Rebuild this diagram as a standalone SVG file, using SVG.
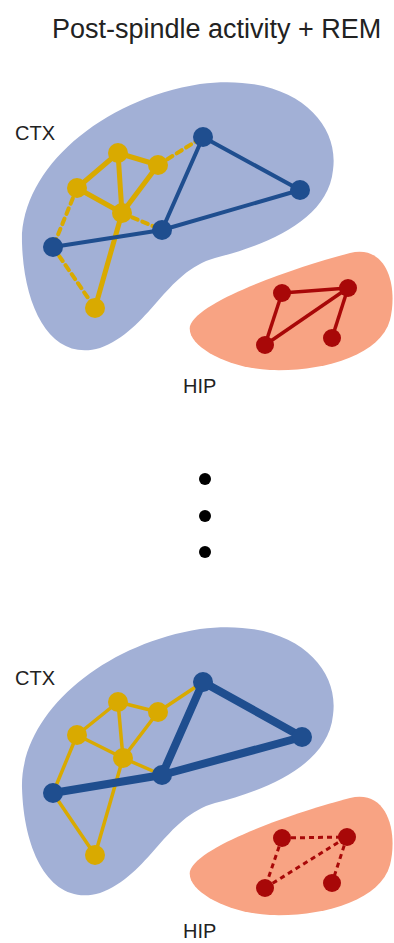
<svg xmlns="http://www.w3.org/2000/svg" width="394" height="943" viewBox="0 0 394 943">
<style>
.lbl{font-family:"Liberation Sans",Arial,sans-serif;fill:#222}
.ctx{fill:#a2b0d6}
.hip{fill:#f8a383}
.b{fill:#1f4e8f}
.y{fill:#d9aa00}
.r{fill:#a80808}
.eb{stroke:#1f4e8f;fill:none;stroke-linecap:round}
.ey{stroke:#d9aa00;fill:none;stroke-linecap:round}
.er{stroke:#a80808;fill:none}
</style>
<defs>
<path id="ctxShape" d="M22 243 C20 170 100 100 200 84 C290 72 340 120 333 170 C328 222 262 246 215 258 C165 272 150 330 100 348 C52 362 24 310 22 243 Z"/>
<path id="hipShape" d="M190 326 C198 300 300 266 350 253 C388 244 398 288 390 320 C380 356 322 372 270 370 C228 368 186 346 190 326 Z"/>
</defs>
<rect width="394" height="943" fill="#fff"/>
<text class="lbl" x="52" y="38" font-size="27">Post-spindle activity + REM</text>

<g id="regions">
<use href="#ctxShape" class="ctx"/>
<use href="#hipShape" class="hip"/>
<use href="#ctxShape" class="ctx" transform="translate(0,545)"/>
<use href="#hipShape" class="hip" transform="translate(0,545)"/>
</g>
<text class="lbl" x="15" y="140" font-size="20">CTX</text>
<text class="lbl" x="183" y="393" font-size="20">HIP</text>
<text class="lbl" x="15" y="685" font-size="20">CTX</text>
<text class="lbl" x="183" y="938" font-size="20">HIP</text>

<g id="connectors">
<!-- top panel -->
<g class="ey" stroke-width="5">
<line x1="118" y1="153" x2="158" y2="165"/>
<line x1="118" y1="153" x2="77" y2="188"/>
<line x1="118" y1="153" x2="122" y2="213"/>
<line x1="77" y1="188" x2="122" y2="213"/>
<line x1="158" y1="165" x2="122" y2="213"/>
<line x1="122" y1="213" x2="95" y2="308"/>
</g>
<g class="ey" stroke-width="4" stroke-dasharray="6 5" stroke-linecap="butt">
<line x1="158" y1="165" x2="203" y2="137"/>
<line x1="77" y1="188" x2="53" y2="247"/>
<line x1="53" y1="247" x2="95" y2="308"/>
<line x1="122" y1="213" x2="162" y2="230"/>
</g>
<g class="eb" stroke-width="4">
<line x1="203" y1="137" x2="300" y2="190"/>
<line x1="203" y1="137" x2="162" y2="230"/>
<line x1="162" y1="230" x2="300" y2="190"/>
<line x1="53" y1="247" x2="162" y2="230"/>
</g>
<g class="er" stroke-width="3.5">
<line x1="282" y1="293" x2="348" y2="288"/>
<line x1="282" y1="293" x2="265" y2="345"/>
<line x1="265" y1="345" x2="348" y2="288"/>
<line x1="348" y1="288" x2="332" y2="338"/>
</g>
<!-- bottom panel -->
<g class="ey" stroke-width="3.5">
<line x1="118" y1="702" x2="158" y2="712"/>
<line x1="118" y1="702" x2="77" y2="735"/>
<line x1="118" y1="702" x2="123" y2="758"/>
<line x1="77" y1="735" x2="123" y2="758"/>
<line x1="158" y1="712" x2="123" y2="758"/>
<line x1="123" y1="758" x2="95" y2="855"/>
<line x1="158" y1="712" x2="203" y2="682"/>
<line x1="77" y1="735" x2="53" y2="793"/>
<line x1="53" y1="793" x2="95" y2="855"/>
<line x1="123" y1="758" x2="162" y2="775"/>
</g>
<g class="eb" stroke-width="8">
<line x1="203" y1="682" x2="302" y2="737"/>
<line x1="203" y1="682" x2="162" y2="775"/>
<line x1="162" y1="775" x2="302" y2="737"/>
<line x1="53" y1="793" x2="162" y2="775"/>
</g>
<g class="er" stroke-width="3" stroke-dasharray="5 4">
<line x1="282" y1="838" x2="347" y2="837"/>
<line x1="282" y1="838" x2="265" y2="888"/>
<line x1="265" y1="888" x2="347" y2="837"/>
<line x1="347" y1="837" x2="332" y2="883"/>
</g>
</g>

<g id="top-nodes">
<g id="t-y-top"><circle class="y" cx="118" cy="153" r="10"/></g>
<g id="t-y-right"><circle class="y" cx="158" cy="165" r="10"/></g>
<g id="t-y-left"><circle class="y" cx="77" cy="188" r="10"/></g>
<g id="t-y-center"><circle class="y" cx="122" cy="213" r="10"/></g>
<g id="t-y-bottom"><circle class="y" cx="95" cy="308" r="10"/></g>
<g id="t-b-top"><circle class="b" cx="203" cy="137" r="10"/></g>
<g id="t-b-right"><circle class="b" cx="300" cy="190" r="10"/></g>
<g id="t-b-center"><circle class="b" cx="162" cy="230" r="10"/></g>
<g id="t-b-left"><circle class="b" cx="53" cy="247" r="10"/></g>
<g id="t-r-1"><circle class="r" cx="282" cy="293" r="9"/></g>
<g id="t-r-2"><circle class="r" cx="348" cy="288" r="9"/></g>
<g id="t-r-3"><circle class="r" cx="265" cy="345" r="9"/></g>
<g id="t-r-4"><circle class="r" cx="332" cy="338" r="9"/></g>
</g>

<g id="ellipsis">
<circle cx="205" cy="479" r="6" fill="#000"/>
<circle cx="205" cy="516" r="6" fill="#000"/>
<circle cx="205" cy="552" r="6" fill="#000"/>
</g>

<g id="bottom-nodes">
<g id="b-y-top"><circle class="y" cx="118" cy="702" r="10"/></g>
<g id="b-y-right"><circle class="y" cx="158" cy="712" r="10"/></g>
<g id="b-y-left"><circle class="y" cx="77" cy="735" r="10"/></g>
<g id="b-y-center"><circle class="y" cx="123" cy="758" r="10"/></g>
<g id="b-y-bottom"><circle class="y" cx="95" cy="855" r="10"/></g>
<g id="b-b-top"><circle class="b" cx="203" cy="682" r="10"/></g>
<g id="b-b-right"><circle class="b" cx="302" cy="737" r="10"/></g>
<g id="b-b-center"><circle class="b" cx="162" cy="775" r="10"/></g>
<g id="b-b-left"><circle class="b" cx="53" cy="793" r="10"/></g>
<g id="b-r-1"><circle class="r" cx="282" cy="838" r="9"/></g>
<g id="b-r-2"><circle class="r" cx="347" cy="837" r="9"/></g>
<g id="b-r-3"><circle class="r" cx="265" cy="888" r="9"/></g>
<g id="b-r-4"><circle class="r" cx="332" cy="883" r="9"/></g>
</g>
</svg>
